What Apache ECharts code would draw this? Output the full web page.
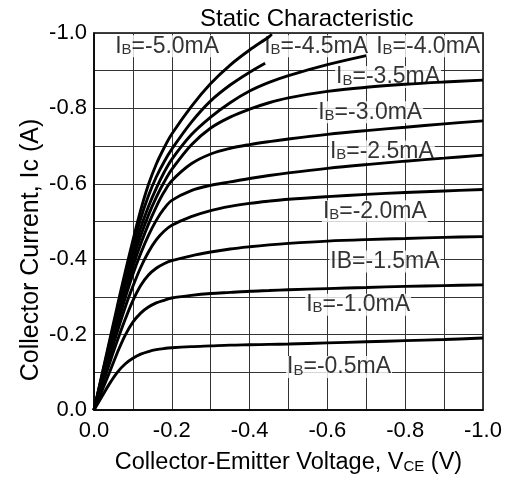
<!DOCTYPE html>
<html>
<head>
<meta charset="utf-8">
<script src="https://cdn.jsdelivr.net/npm/echarts@6/dist/echarts.min.js"></script>
<style>html,body{margin:0;padding:0;background:#fff}#c{width:512px;height:485px}</style>
</head>
<body>
<div id="c"></div>
<script>
// Collector-emitter voltage grid (V)
const vce = [0, -0.02, -0.04, -0.06, -0.08, -0.1, -0.12, -0.14, -0.16, -0.18, -0.2, -0.25, -0.3, -0.35, -0.4, -0.45, -0.5, -0.6, -0.7, -0.8, -0.9, -1.0];
// Base currents (mA)
const ibValues = [-0.5, -1.0, -1.5, -2.0, -2.5, -3.0, -3.5, -4.0, -4.5, -5.0];
// Collector current (A) per base current, read along vce
const ic05 = [0, -0.035, -0.07, -0.1, -0.122, -0.137, -0.148, -0.155, -0.16, -0.163, -0.165, -0.168, -0.17, -0.172, -0.173, -0.174, -0.175, -0.178, -0.181, -0.184, -0.187, -0.191];
const ic10 = [0, -0.05, -0.1, -0.152, -0.198, -0.233, -0.257, -0.273, -0.284, -0.291, -0.297, -0.304, -0.309, -0.312, -0.315, -0.317, -0.319, -0.322, -0.325, -0.328, -0.33, -0.332];
const ic15 = [0, -0.062, -0.124, -0.184, -0.24, -0.29, -0.33, -0.358, -0.376, -0.388, -0.396, -0.409, -0.419, -0.427, -0.433, -0.438, -0.442, -0.448, -0.452, -0.455, -0.458, -0.46];
const ic20 = [0, -0.07, -0.14, -0.208, -0.272, -0.328, -0.378, -0.419, -0.451, -0.474, -0.49, -0.513, -0.529, -0.54, -0.548, -0.554, -0.559, -0.566, -0.572, -0.577, -0.581, -0.585];
const ic25 = [0, -0.076, -0.152, -0.226, -0.296, -0.36, -0.415, -0.463, -0.503, -0.534, -0.556, -0.582, -0.596, -0.605, -0.614, -0.622, -0.629, -0.641, -0.651, -0.66, -0.668, -0.676];
const ic30 = [0, -0.08, -0.16, -0.238, -0.312, -0.38, -0.44, -0.493, -0.539, -0.578, -0.608, -0.653, -0.679, -0.694, -0.704, -0.712, -0.719, -0.731, -0.741, -0.75, -0.759, -0.767];
const ic35 = [0, -0.083, -0.166, -0.248, -0.326, -0.398, -0.462, -0.517, -0.564, -0.604, -0.638, -0.703, -0.748, -0.777, -0.798, -0.815, -0.828, -0.845, -0.856, -0.864, -0.87, -0.875];
const ic40 = [0, -0.086, -0.172, -0.257, -0.339, -0.415, -0.483, -0.54, -0.588, -0.63, -0.665, -0.73, -0.777, -0.815, -0.846, -0.869, -0.887, -0.916, -0.94];
const ic45 = [0, -0.089, -0.178, -0.266, -0.352, -0.433, -0.507, -0.568, -0.618, -0.658, -0.692, -0.763, -0.82, -0.862, -0.896];
const ic50 = [0, -0.092, -0.184, -0.276, -0.365, -0.45, -0.53, -0.598, -0.652, -0.695, -0.732, -0.805, -0.866, -0.915, -0.955, -0.99];
// Extra end points of curves that stop early (V, A)
const endV = [null, null, null, null, null, null, null, null, -0.44, -0.457];
const endI = [null, null, null, null, null, null, null, null, -0.92, -0.997];
const curves = [ic05, ic10, ic15, ic20, ic25, ic30, ic35, ic40, ic45, ic50];
// Curve labels and their anchors (data units)
const labelText = ['I_B=-0.5mA', 'I_B=-1.0mA', 'IB=-1.5mA', 'I_B=-2.0mA', 'I_B=-2.5mA', 'I_B=-3.0mA', 'I_B=-3.5mA', 'I_B=-4.0mA', 'I_B=-4.5mA', 'I_B=-5.0mA'];
const labelV = [-0.63, -0.679, -0.748, -0.722, -0.74, -0.71, -0.756, -0.859, -0.571, -0.188];
const labelI = [-0.114, -0.279, -0.394, -0.527, -0.686, -0.79, -0.883, -0.965, -0.965, -0.965];

const FONT = 'Liberation Sans, Arial, sans-serif';
function richLabel(t) {
  if (t.indexOf('_') < 0) return '{n|' + t + '}';
  const i = t.indexOf('_');
  return '{n|' + t.slice(0, i) + '}{s|' + t.charAt(i + 1) + '}{n|' + t.slice(i + 2) + '}';
}
function tickFmt(v) {
  const k = Math.round(-v * 10);
  if (k % 2) return '';
  return k === 0 ? '0.0' : '-' + (k / 10).toFixed(1);
}

const series = curves.map((c, s) => {
  const d = c.map((y, k) => [vce[k], y]);
  if (endV[s] !== null) d.push([endV[s], endI[s]]);
  return {
    type: 'line', name: String(ibValues[s]), data: d, smooth: 0.35, symbol: 'none', z: 5,
    lineStyle: {color: '#000', width: 2.9}
  };
});
series.push({
  type: 'scatter', z: 3, symbolSize: 1, itemStyle: {color: 'rgba(0,0,0,0)'},
  data: labelText.map((t, k) => ({value: [labelV[k], labelI[k]], name: t})),
  label: {
    show: true, position: 'inside', formatter: p => richLabel(p.name),
    backgroundColor: '#fff', padding: [0, 1, 0, 1],
    rich: {
      n: {fontFamily: FONT, fontSize: 23, color: '#000', lineHeight: 22},
      s: {fontFamily: FONT, fontSize: 15, color: '#000', lineHeight: 14, verticalAlign: 'bottom'}
    }
  },
  silent: true
});

const chart = echarts.init(document.getElementById('c'), null, {renderer: 'canvas'});
chart.setOption({
  animation: false,
  backgroundColor: '#fff',
  title: {text: 'Static Characteristic', left: 195, top: 2,
    textStyle: {fontFamily: FONT, fontSize: 24, fontWeight: 'normal', color: '#000'}},
  grid: {left: 94, right: 29, top: 33, bottom: 75, show: true, borderColor: '#000', borderWidth: 1.5, backgroundColor: 'transparent'},
  xAxis: {
    type: 'value', min: -1, max: 0, interval: 0.1, inverse: true,
    name: '{n|Collector-Emitter Voltage, V}{s|CE}{n| (V)}', nameLocation: 'middle', nameGap: 41,
    nameTextStyle: {rich: {
      n: {fontFamily: FONT, fontSize: 23.5, color: '#000', lineHeight: 23},
      s: {fontFamily: FONT, fontSize: 15, color: '#000', lineHeight: 14, verticalAlign: 'bottom'}}},
    axisLine: {show: true, lineStyle: {color: '#000', width: 1.5}},
    axisTick: {show: false},
    axisLabel: {formatter: tickFmt, fontFamily: FONT, fontSize: 22, color: '#000', margin: 10, showMinLabel: true, showMaxLabel: true},
    splitLine: {show: true, lineStyle: {color: '#333', width: 1}}
  },
  yAxis: {
    type: 'value', min: -1, max: 0, interval: 0.1, inverse: true,
    axisLine: {show: true, lineStyle: {color: '#000', width: 1.5}},
    axisTick: {show: false},
    axisLabel: {formatter: tickFmt, fontFamily: FONT, fontSize: 22, color: '#000', margin: 7, showMinLabel: true, showMaxLabel: true},
    splitLine: {show: true, lineStyle: {color: '#333', width: 1}}
  },
  graphic: [{
    type: 'text', x: 31, y: 250, rotation: Math.PI / 2,
    style: {text: 'Collector Current, Ic (A)', font: '25px ' + FONT, fill: '#000', textAlign: 'center', textVerticalAlign: 'middle'}
  }],
  series: series
});
</script>
</body>
</html>
